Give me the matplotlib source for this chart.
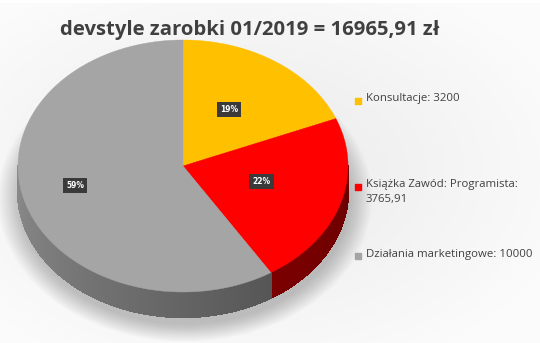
import numpy as np
import matplotlib
matplotlib.use('Agg')
import matplotlib.pyplot as plt
from matplotlib.patches import Polygon, Ellipse
from matplotlib.colors import to_rgb

title = 'devstyle zarobki 01/2019 = 16965,91 zł'
categories = ['Konsultacje', 'Książka Zawód: Programista', 'Działania marketingowe']
values = [3200, 3765.91, 10000]
value_labels = ['3200', '3765,91', '10000']

top_colors = ['#FFC000', '#FF0000', '#A5A5A5']
side_light = ['#B38600', '#A00000', '#8C8C8C']
side_dark = ['#7A5C00', '#6A0000', '#3C3C3C']

W, H = 540, 343
cx, cy, rx, ry, depth = 183, 166, 165, 126, 25

fig = plt.figure(figsize=(W / 100, H / 100), dpi=100)
ax = fig.add_axes([0, 0, 1, 1])
ax.set_xlim(0, W)
ax.set_ylim(H, 0)
ax.axis('off')

# background gradient
yy, xx = np.mgrid[0:H, 0:W]
d = np.sqrt(((xx - W * 0.45) / W) ** 2 + ((yy - H * 0.5) / H) ** 2)
bg = 0.985 - 0.07 * np.clip(1 - d * 1.6, 0, 1)
ax.imshow(np.dstack([bg, bg, bg]), extent=[0, W, H, 0], zorder=0)
ax.axhline(1, color='white', lw=2, zorder=1)


def pt(theta, off=0.0):
    t = np.radians(theta)
    return cx + rx * np.cos(t), cy - ry * np.sin(t) + off


# soft shadow under the pie
for k in range(12):
    s = 1 + k * 0.012
    ax.add_patch(Ellipse((cx + 2, cy + depth + 8), 2 * rx * s, 2 * ry * s,
                         color='black', alpha=0.018, lw=0, zorder=1))

total = sum(values)
fracs = [v / total for v in values]
angles = [90.0]
for f in fracs:
    angles.append(angles[-1] - 360 * f)

# side walls (only the front half is visible)
for i in range(len(values)):
    a0, a1 = angles[i], angles[i + 1]
    lo, hi = min(a0, a1), max(a0, a1)
    for base in (-360, 0):
        s0, s1 = max(lo, base + 180), min(hi, base + 360)
        if s1 <= s0:
            continue
        th = np.linspace(s0, s1, 150)
        for j in range(len(th) - 1):
            x0, y0 = pt(th[j])
            x1, y1 = pt(th[j + 1])
            m = ((th[j] - base) - 180) / 180
            c = np.array(to_rgb(side_light[i])) * (1 - m) + np.array(to_rgb(side_dark[i])) * m
            ax.add_patch(Polygon([(x0, y0), (x1, y1), (x1, y1 + depth), (x0, y0 + depth)],
                                 closed=True, fc=c, ec=c, lw=1.0, antialiased=False, zorder=2))

# top faces
for i in range(len(values)):
    th = np.linspace(angles[i], angles[i + 1], 200)
    xs, ys = pt(th)
    verts = [(cx, cy)] + list(zip(xs, ys))
    ax.add_patch(Polygon(verts, closed=True, fc=top_colors[i], ec=top_colors[i], lw=0.3, zorder=3))

# percentage labels
label_r = [0.5, 0.5, 0.68]
for i, f in enumerate(fracs):
    mid = (angles[i] + angles[i + 1]) / 2
    t = np.radians(mid)
    x = cx + rx * label_r[i] * np.cos(t)
    y = cy - ry * label_r[i] * np.sin(t) - 4
    ax.text(x, y, f'{f * 100:.0f}%', ha='center', va='center', fontsize=5.5,
            fontweight='bold', color='white', family='DejaVu Sans', zorder=5,
            bbox=dict(boxstyle='square,pad=0.4', fc='#3A3A3A', ec='none'))

# title
ax.text(250, 30, title, ha='center', va='center', fontsize=14.6, fontweight='bold',
        color='#404040', family='Open Sans', zorder=5)

# legend
leg_y = [101, 187, 256]
leg_text = [f'{categories[0]}: {value_labels[0]}',
            f'{categories[1]}:\n{value_labels[1]}',
            f'{categories[2]}: {value_labels[2]}']
for i in range(len(values)):
    ax.scatter([358], [leg_y[i]], marker='s', s=24, color=top_colors[i], zorder=5)
    ax.text(366, leg_y[i] - 7.5, leg_text[i], ha='left', va='top', fontsize=8.2,
            color='#404040', family='Open Sans', linespacing=1.45, zorder=5)

fig.savefig('out.png', dpi=100)
